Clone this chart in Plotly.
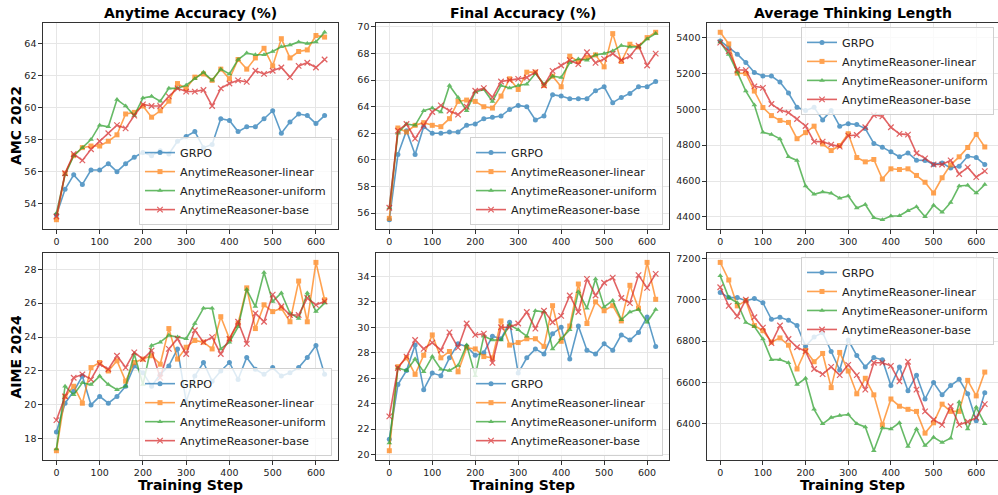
import plotly.graph_objects as go

steps = [0, 20, 40, 60, 80, 100, 120, 140, 160, 180, 200, 220, 240, 260, 280, 300,
         320, 340, 360, 380, 400, 420, 440, 460, 480, 500, 520, 540, 560, 580, 600, 620]

series_names = ["GRPO", "AnytimeReasoner-linear", "AnytimeReasoner-uniform", "AnytimeReasoner-base"]

# AMC 2022 - Anytime Accuracy (%)
amc_any_grpo = [53.3, 54.9, 55.8, 55.2, 56.1, 56.1, 56.5, 56.0, 56.5, 56.9, 57.2, 57.0, 57.3, 57.1, 57.9, 58.2,
                58.5, 57.5, 57.7, 59.3, 59.2, 58.5, 58.8, 58.8, 59.3, 59.8, 58.4, 59.1, 59.6, 59.5, 59.0, 59.5]
amc_any_linear = [53.0, 55.9, 57.0, 57.5, 57.6, 57.6, 57.9, 58.3, 59.6, 59.7, 60.1, 59.4, 59.8, 60.4, 61.5, 61.2,
                  61.9, 62.1, 61.7, 62.4, 61.8, 63.0, 62.4, 63.1, 63.7, 62.6, 64.3, 63.1, 63.5, 63.6, 64.5, 64.4]
amc_any_uniform = [53.4, 55.8, 57.0, 57.5, 58.0, 58.9, 58.8, 60.5, 60.1, 59.5, 60.6, 60.7, 60.4, 61.2, 61.2, 61.4,
                   61.8, 62.2, 61.7, 62.4, 62.1, 63.0, 63.4, 63.3, 63.3, 63.5, 63.8, 63.9, 64.1, 64.0, 64.1, 64.7]
amc_any_base = [53.2, 55.9, 57.1, 56.7, 57.4, 57.9, 58.4, 58.9, 58.7, 59.5, 60.2, 60.1, 60.1, 60.7, 61.2, 61.0,
                61.0, 61.1, 60.1, 61.2, 61.5, 61.7, 61.6, 62.3, 62.1, 62.3, 62.5, 61.9, 62.6, 62.8, 62.5, 63.0]

# AMC 2022 - Final Accuracy (%)
amc_fin_grpo = [55.5, 60.4, 62.2, 60.4, 62.5, 62.0, 62.0, 62.1, 62.1, 62.6, 62.7, 63.1, 63.2, 63.3, 63.8, 64.1,
                64.0, 63.0, 63.3, 64.9, 64.8, 64.6, 64.6, 64.6, 65.2, 65.5, 64.3, 64.7, 65.0, 65.5, 65.5, 65.9]
amc_fin_linear = [55.6, 62.4, 62.1, 62.6, 62.8, 62.6, 62.5, 63.1, 64.4, 64.5, 64.4, 64.0, 63.9, 64.8, 66.1, 65.3,
                  66.6, 66.6, 65.6, 66.3, 65.5, 67.8, 67.4, 67.7, 67.9, 67.0, 69.5, 67.4, 68.7, 68.5, 69.2, 69.6]
amc_fin_uniform = [56.4, 62.0, 62.7, 62.6, 63.7, 63.9, 63.6, 65.6, 64.7, 63.7, 65.1, 65.3, 64.4, 65.6, 65.4, 65.6,
                   65.7, 66.5, 65.7, 66.3, 66.2, 67.3, 67.6, 67.5, 67.9, 68.0, 68.2, 68.6, 68.5, 68.5, 69.1, 69.5]
amc_fin_base = [56.4, 62.2, 62.7, 61.6, 62.6, 63.6, 64.1, 63.7, 63.4, 64.0, 65.2, 65.4, 64.7, 65.9, 66.0, 66.1,
                66.2, 66.6, 65.6, 66.7, 67.1, 67.5, 67.2, 68.1, 67.3, 67.6, 68.0, 67.5, 67.8, 68.6, 67.1, 68.0]

# AMC 2022 - Average Thinking Length
amc_len_grpo = [5382, 5343, 5308, 5261, 5205, 5186, 5186, 5152, 5091, 5011, 4994, 5011, 4941, 4993, 4906, 4920,
                4915, 4893, 4810, 4789, 4763, 4735, 4757, 4716, 4715, 4692, 4701, 4672, 4683, 4738, 4731, 4692]
amc_len_linear = [5430, 5365, 5202, 5200, 5102, 5010, 4965, 4938, 4927, 4836, 4870, 4906, 4807, 4770, 4798, 4864,
                  4731, 4707, 4720, 4611, 4668, 4664, 4668, 4631, 4593, 4533, 4618, 4690, 4735, 4787, 4860, 4790]
amc_len_uniform = [5376, 5306, 5208, 5102, 5024, 4872, 4860, 4835, 4735, 4715, 4572, 4526, 4539, 4532, 4504, 4517,
                   4449, 4469, 4395, 4384, 4405, 4406, 4434, 4456, 4401, 4465, 4426, 4480, 4572, 4576, 4533, 4580]
amc_len_base = [5372, 5324, 5221, 5219, 5128, 5120, 5030, 4996, 4982, 4946, 4907, 4820, 4820, 4803, 4792, 4853,
                4857, 4900, 4968, 4961, 4900, 4863, 4859, 4755, 4726, 4692, 4692, 4715, 4639, 4676, 4622, 4655]

# AIME 2024 - Anytime Accuracy (%)
aime_any_grpo = [18.4, 20.1, 20.8, 21.7, 20.0, 20.5, 20.1, 20.5, 21.1, 22.3, 21.9, 21.1, 21.8, 22.3, 23.3, 20.2,
                 21.7, 22.5, 21.4, 22.0, 22.5, 21.5, 22.8, 22.1, 21.8, 22.2, 21.7, 21.9, 22.2, 22.8, 23.5, 21.8]
aime_any_linear = [17.3, 20.5, 21.1, 20.1, 22.2, 22.5, 22.0, 22.6, 21.4, 22.5, 22.7, 22.9, 22.4, 24.5, 22.7, 23.4,
                   23.8, 23.7, 23.3, 25.2, 23.9, 24.8, 26.9, 24.5, 25.9, 25.5, 25.7, 24.9, 27.3, 24.9, 28.4, 26.2]
aime_any_uniform = [17.4, 21.1, 20.6, 21.3, 21.2, 21.7, 21.2, 20.9, 21.1, 23.0, 21.2, 23.5, 23.7, 24.1, 24.0, 23.9,
                    24.8, 25.7, 25.7, 23.3, 23.7, 24.6, 26.8, 25.8, 27.8, 26.1, 26.6, 25.4, 25.1, 26.6, 25.5, 26.0]
aime_any_base = [19.1, 20.5, 21.6, 21.8, 21.5, 22.4, 22.1, 22.9, 22.2, 23.1, 22.7, 23.2, 21.6, 23.3, 23.9, 23.0,
                 24.4, 23.7, 24.0, 23.0, 23.9, 24.9, 23.6, 25.4, 24.9, 26.5, 25.8, 25.3, 25.3, 26.3, 25.9, 26.1]

# AIME 2024 - Final Accuracy (%)
aime_fin_grpo = [21.2, 25.5, 26.6, 28.6, 25.1, 26.4, 26.2, 27.6, 28.7, 28.5, 27.8, 28.0, 29.3, 29.1, 30.4, 26.4,
                 27.6, 28.3, 27.9, 29.5, 30.0, 27.5, 30.1, 28.2, 27.9, 28.7, 28.2, 29.4, 29.0, 29.6, 30.8, 28.5]
aime_fin_linear = [20.3, 26.9, 27.6, 26.3, 27.8, 29.4, 27.6, 28.1, 26.5, 28.4, 28.3, 27.7, 27.6, 30.5, 28.6, 28.8,
                   29.1, 29.1, 28.5, 31.7, 28.9, 30.1, 33.4, 30.3, 32.0, 31.3, 31.7, 30.5, 33.3, 31.5, 35.1, 32.2]
aime_fin_uniform = [20.9, 26.8, 26.6, 27.5, 26.5, 27.7, 26.7, 26.6, 27.0, 28.6, 26.2, 29.3, 29.0, 29.0, 30.2, 29.8,
                    29.3, 31.3, 31.2, 28.3, 29.1, 29.8, 32.8, 31.5, 33.8, 31.6, 32.1, 30.6, 31.2, 31.4, 30.4, 31.4]
aime_fin_base = [23.0, 26.8, 27.7, 29.0, 28.3, 28.8, 28.2, 29.6, 28.4, 30.3, 29.4, 29.5, 27.2, 30.0, 30.0, 30.3,
                 31.2, 29.9, 31.3, 30.4, 30.9, 32.5, 31.2, 33.8, 32.5, 33.5, 33.9, 32.3, 31.9, 34.1, 33.1, 34.2]

# AIME 2024 - Average Thinking Length
aime_len_grpo = [7035, 7010, 7010, 6995, 7005, 6985, 6905, 6915, 6900, 6875, 6775, 6820, 6840, 6750, 6660, 6805,
                 6730, 6675, 6720, 6710, 6585, 6675, 6560, 6635, 6520, 6600, 6540, 6585, 6615, 6545, 6415, 6550]
aime_len_linear = [7180, 7095, 6970, 6995, 6875, 6850, 6795, 6815, 6780, 6665, 6755, 6700, 6740, 6575, 6745, 6655,
                   6545, 6620, 6540, 6395, 6520, 6485, 6470, 6460, 6355, 6405, 6495, 6460, 6460, 6610, 6535, 6650]
aime_len_uniform = [7115, 7010, 6985, 6890, 6870, 6810, 6710, 6710, 6695, 6590, 6620, 6470, 6400, 6430, 6440, 6445,
                    6400, 6385, 6270, 6380, 6375, 6405, 6290, 6375, 6295, 6335, 6310, 6330, 6505, 6375, 6480, 6400]
aime_len_base = [7060, 6970, 6920, 7000, 6915, 6865, 6790, 6875, 6810, 6770, 6750, 6665, 6640, 6675, 6635, 6685,
                 6635, 6565, 6695, 6695, 6680, 6605, 6700, 6565, 6460, 6420, 6395, 6485, 6395, 6410, 6430, 6495]

col_titles = ["Anytime Accuracy (%)", "Final Accuracy (%)", "Average Thinking Length"]
row_labels = ["AMC 2022", "AIME 2024"]
x_label = "Training Step"

panels = [
    [amc_any_grpo, amc_any_linear, amc_any_uniform, amc_any_base],
    [amc_fin_grpo, amc_fin_linear, amc_fin_uniform, amc_fin_base],
    [amc_len_grpo, amc_len_linear, amc_len_uniform, amc_len_base],
    [aime_any_grpo, aime_any_linear, aime_any_uniform, aime_any_base],
    [aime_fin_grpo, aime_fin_linear, aime_fin_uniform, aime_fin_base],
    [aime_len_grpo, aime_len_linear, aime_len_uniform, aime_len_base],
]
y_dticks = [2, 2, 200, 2, 2, 200]
legend_pos = ["br", "br", "tr", "br", "br", "tr"]

colors = ["#1f77b4", "#ff7f0e", "#2ca02c", "#d62728"]
symbols = ["circle", "square", "triangle-up", "x-thin"]

W, H = 998, 495
FONT = "DejaVu Sans"
cols_px = [(43, 338), (376, 669), (707, 998)]
rows_px = [(21, 228), (252, 460)]
# legend box anchor (right edge px, top or bottom edge px)
legend_px = [(332, 224), (663, 224), (994, 25), (332, 456), (663, 456), (994, 256)]

fig = go.Figure()
layout = dict(
    width=W, height=H,
    margin=dict(l=0, r=0, t=0, b=0),
    paper_bgcolor="white", plot_bgcolor="white",
    font=dict(family=FONT, size=9, color="#222"),
    annotations=[],
)


def margins(vals):
    lo, hi = min(vals), max(vals)
    pad = (hi - lo) * 0.05
    return [lo - pad, hi + pad]


for p, series in enumerate(panels):
    r, c = divmod(p, 3)
    idx = "" if p == 0 else str(p + 1)
    leg = "legend" if p == 0 else "legend" + str(p + 1)
    for s, vals in enumerate(series):
        fig.add_trace(go.Scatter(
            x=steps, y=vals, name=series_names[s], mode="lines+markers",
            xaxis="x" + idx, yaxis="y" + idx, legend=leg,
            opacity=0.72,
            line=dict(color=colors[s], width=1.6),
            marker=dict(symbol=symbols[s], size=5 if s != 3 else 5.5, color=colors[s],
                        line=dict(color=colors[s], width=1.2 if s == 3 else 0)),
        ))
    x0, x1 = cols_px[c]
    y0, y1 = rows_px[r]
    allv = [v for ser in series for v in ser]
    axis_common = dict(
        showline=True, linecolor="#333", linewidth=1.3,
        ticks="outside", ticklen=3.5, tickwidth=1, tickcolor="#333",
        showgrid=True, gridcolor="#e6e6e6", gridwidth=0.8, zeroline=False,
        tickfont=dict(family=FONT, size=9.5, color="#222"),
    )
    layout["xaxis" + idx] = dict(
        axis_common, mirror=True, domain=[x0 / W, x1 / W], anchor="y" + idx,
        range=margins(steps), tickmode="linear", tick0=0, dtick=100,
    )
    layout["yaxis" + idx] = dict(
        axis_common, mirror=(c != 2), domain=[1 - y1 / H, 1 - y0 / H], anchor="x" + idx,
        range=margins(allv), tickmode="linear", tick0=0, dtick=y_dticks[p],
    )
    lx, ly = legend_px[p]
    layout[leg] = dict(
        x=lx / W, y=1 - ly / H, xanchor="right",
        yanchor="bottom" if legend_pos[p] == "br" else "top",
        bgcolor="rgba(255,255,255,0.8)", bordercolor="#d0d0d0", borderwidth=1,
        font=dict(family=FONT, size=11.2, color="#222"), tracegroupgap=0,
        itemwidth=30,
    )

for c, t in enumerate(col_titles):
    x0, x1 = cols_px[c]
    layout["annotations"].append(dict(
        text="<b>" + t + "</b>", x=(x0 + x1) / 2 / W, y=1 - 11 / H, xref="paper", yref="paper",
        showarrow=False, xanchor="center", yanchor="middle",
        font=dict(family=FONT, size=14, color="#000"),
    ))
    layout["annotations"].append(dict(
        text="<b>" + x_label + "</b>", x=(x0 + x1) / 2 / W, y=1 - 485 / H, xref="paper", yref="paper",
        showarrow=False, xanchor="center", yanchor="middle",
        font=dict(family=FONT, size=14, color="#000"),
    ))
for r, t in enumerate(row_labels):
    y0, y1 = rows_px[r]
    layout["annotations"].append(dict(
        text="<b>" + t + "</b>", x=16 / W, y=1 - (y0 + y1) / 2 / H, xref="paper", yref="paper",
        showarrow=False, xanchor="center", yanchor="middle", textangle=-90,
        font=dict(family=FONT, size=14, color="#000"),
    ))

fig.update_layout(layout)
fig.write_html(
    "out.html",
    config={"displayModeBar": False},
    post_script="document.body.style.margin='0';document.body.style.overflow='hidden';",
)
